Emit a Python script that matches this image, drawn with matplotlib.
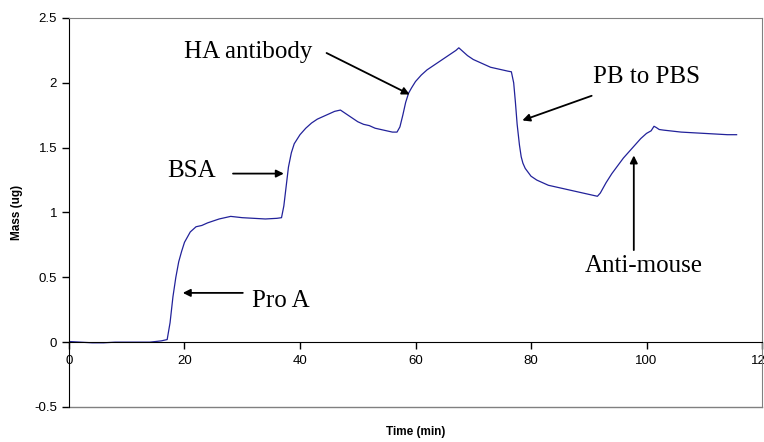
import matplotlib.pyplot as plt

# QCM trace
time = [0, 2, 4, 6, 8, 10, 12, 14, 16, 17, 17.5, 18, 18.5, 19, 19.5, 20, 21, 22, 23, 24,
        26, 28, 30, 32, 34, 36, 36.8, 37.2, 37.6, 38, 38.5, 39, 40, 41, 42, 43, 44, 45, 46,
        47, 48, 49, 50, 51, 52, 53, 54, 55, 56, 56.8, 57.3, 57.8, 58.3, 58.8, 59.3, 60, 61,
        62, 63, 64, 65, 66, 67, 67.5, 68, 69, 70, 71, 72, 73, 74, 75, 76, 76.6, 77, 77.3,
        77.6, 78, 78.3, 78.6, 79, 79.5, 80, 81, 82, 83, 84, 85, 86, 87, 88, 89, 90, 91,
        91.5, 92, 93, 94, 95, 96, 97, 98, 99, 100, 100.8, 101.3, 101.7, 102.2, 103, 104,
        106, 108, 110, 112, 114, 115.6]
mass = [0.005, 0.0, -0.005, -0.005, 0.0, 0.0, 0.0, 0.0, 0.01, 0.02, 0.15, 0.35, 0.5, 0.62,
        0.7, 0.77, 0.85, 0.89, 0.9, 0.92, 0.95, 0.97, 0.96, 0.955, 0.95, 0.955, 0.96, 1.05,
        1.2, 1.35, 1.46, 1.53, 1.6, 1.65, 1.69, 1.72, 1.74, 1.76, 1.78, 1.79, 1.76, 1.73,
        1.70, 1.68, 1.67, 1.65, 1.64, 1.63, 1.62, 1.62, 1.66, 1.75, 1.85, 1.92, 1.96, 2.01,
        2.06, 2.10, 2.13, 2.16, 2.19, 2.22, 2.25, 2.27, 2.25, 2.21, 2.18, 2.16, 2.14, 2.12,
        2.11, 2.10, 2.09, 2.085, 2.0, 1.85, 1.68, 1.52, 1.43, 1.38, 1.34, 1.31, 1.28, 1.25,
        1.23, 1.21, 1.2, 1.19, 1.18, 1.17, 1.16, 1.15, 1.14, 1.13, 1.125, 1.15, 1.23, 1.3,
        1.36, 1.42, 1.47, 1.52, 1.57, 1.61, 1.63, 1.665, 1.655, 1.64, 1.635, 1.63, 1.62,
        1.615, 1.61, 1.605, 1.6, 1.6]

# annotations: label, text position, arrow tail, arrow head (data coords)
labels = ['Pro A', 'BSA', 'HA antibody', 'PB to PBS', 'Anti-mouse']
text_xy = [(31.7, 0.27), (17.0, 1.27), (19.9, 2.19), (90.7, 2.00), (89.3, 0.54)]
tail_xy = [(30.1, 0.38), (28.4, 1.30), (44.6, 2.23), (90.5, 1.90), (97.8, 0.71)]
head_xy = [(19.7, 0.38), (37.2, 1.30), (59.0, 1.91), (78.5, 1.71), (97.8, 1.44)]

fig = plt.figure(figsize=(7.64, 4.42), dpi=100)
ax = fig.add_axes([0.0903, 0.0792, 0.9071, 0.8801])

ax.plot(time, mass, color='#22229a', lw=0.9)

ax.set_xlim(0, 120)
ax.set_ylim(-0.5, 2.5)
ax.set_xticks([0, 20, 40, 60, 80, 100, 120])
ax.set_xticklabels(['0', '20', '40', '60', '80', '100', '120'])
ax.set_yticks([-0.5, 0, 0.5, 1, 1.5, 2, 2.5])
ax.set_yticklabels(['-0.5', '0', '0.5', '1', '1.5', '2', '2.5'])

# x axis crosses at zero, grey frame around the plot area
ax.spines['bottom'].set_position(('data', 0))
ax.spines['bottom'].set_color('black')
ax.spines['left'].set_color('black')
for s in ['top', 'right']:
    ax.spines[s].set_color('#808080')
ax.axhline(-0.5, color='#808080', lw=1.0, clip_on=False)

ax.tick_params(axis='both', direction='out', length=5, width=1,
               labelsize=9.5, labelcolor='black')
ax.tick_params(axis='x', pad=4)
for lab in ax.get_xticklabels() + ax.get_yticklabels():
    lab.set_family(['Liberation Sans', 'DejaVu Sans'])

ax.set_xlabel('Time (min)', fontsize=8.5, fontweight='bold', family=['Liberation Sans', 'DejaVu Sans'])
ax.xaxis.set_label_coords(0.5, -0.048)
ax.set_ylabel('Mass (ug)', fontsize=8.5, fontweight='bold', family=['Liberation Sans', 'DejaVu Sans'])
ax.yaxis.set_label_coords(-0.066, 0.5)

for lab, txy, a, b in zip(labels, text_xy, tail_xy, head_xy):
    ax.text(txy[0], txy[1], lab, fontsize=18, family=['Liberation Serif', 'DejaVu Serif'],
            ha='left', va='baseline')
    ax.annotate('', xy=b, xytext=a,
                arrowprops=dict(arrowstyle='-|>', color='black', lw=1.3,
                                mutation_scale=11, shrinkA=0, shrinkB=0))

fig.savefig('out.png', dpi=100)
